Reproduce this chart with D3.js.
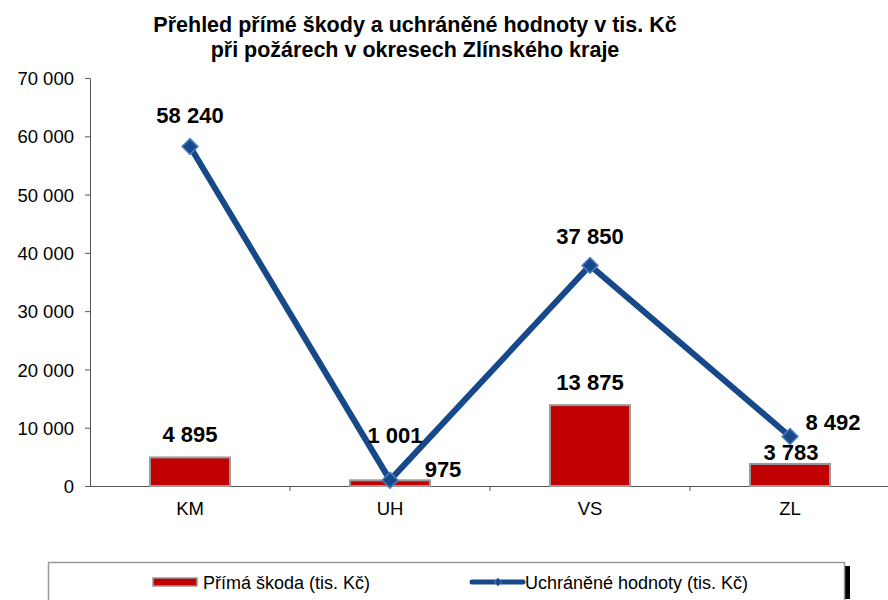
<!DOCTYPE html>
<html>
<head>
<meta charset="utf-8">
<script src="https://cdn.jsdelivr.net/npm/d3@7"></script>
<style>
  body { margin: 0; background: #fff; }
  svg text { font-family: "Liberation Sans", Arial, sans-serif; }
</style>
</head>
<body>
<div id="chart"></div>
<script>
// data
const districts = ["KM", "UH", "VS", "ZL"];
const directDamage = [4895, 975, 13875, 3783];
const savedValues = [58240, 1001, 37850, 8492];
const yTicks = [0, 10000, 20000, 30000, 40000, 50000, 60000, 70000];
const titleLines = ["Přehled přímé škody a uchráněné hodnoty v tis. Kč", "při požárech v okresech Zlínského kraje"];
const seriesNames = ["Přímá škoda (tis. Kč)", "Uchráněné hodnoty (tis. Kč)"];

const W = 888, H = 600;
const fmt = v => d3.format(",")(v).replace(/,/g, " ");

const svg = d3.select("#chart").append("svg")
  .attr("width", W).attr("height", H);

// title
svg.append("g").selectAll("text")
  .data(titleLines)
  .enter().append("text")
  .attr("x", 415)
  .attr("y", (d, i) => 32 + i * 25)
  .attr("text-anchor", "middle")
  .style("font-weight", "bold")
  .style("font-size", "21.5px")
  .text(d => d);

const x = d3.scaleBand().domain(districts).range([90, 890]);
const y = d3.scaleLinear().domain([0, 70000]).range([486, 78]);

// y axis
const yAxis = svg.append("g")
  .attr("transform", "translate(90,0)")
  .call(d3.axisLeft(y).tickValues(yTicks).tickFormat(fmt).tickSize(5).tickSizeOuter(0));
yAxis.select(".domain").attr("stroke", "#555");
yAxis.selectAll(".tick line").attr("stroke", "#555");
yAxis.selectAll("text").style("font-size", "18.5px").attr("fill", "#000").attr("x", -16).attr("dy", "0.36em");

// x axis
const xAxis = svg.append("g")
  .attr("transform", "translate(0,486)")
  .call(d3.axisBottom(x).tickSize(0).tickSizeOuter(0));
xAxis.select(".domain").attr("stroke", "#555");
xAxis.selectAll("text").style("font-size", "18.5px").attr("fill", "#000").attr("y", 29).attr("dy", 0);
// category separator ticks
svg.append("g").selectAll("line")
  .data(districts.slice(1))
  .enter().append("line")
  .attr("x1", d => x(d)).attr("x2", d => x(d))
  .attr("y1", 486).attr("y2", 491)
  .attr("stroke", "#555");

// bars
const bw = 80;
svg.append("g").selectAll("rect")
  .data(districts)
  .enter().append("rect")
  .attr("x", d => x(d) + x.bandwidth() / 2 - bw / 2)
  .attr("y", (d, i) => y(directDamage[i]))
  .attr("width", bw)
  .attr("height", (d, i) => y(0) - y(directDamage[i]))
  .attr("fill", "#c00000")
  .attr("stroke", "#999")
  .attr("stroke-width", 2);

// line
const cx = d => x(d) + x.bandwidth() / 2;
const line = d3.line().x(d => cx(d)).y((d, i) => y(savedValues[i]));
svg.append("path")
  .datum(districts)
  .attr("d", line)
  .attr("fill", "none")
  .attr("stroke", "#16488a")
  .attr("stroke-width", 6);

svg.append("g").selectAll("path")
  .data(districts)
  .enter().append("path")
  .attr("d", d3.symbol(d3.symbolDiamond2, 160))
  .attr("transform", (d, i) => `translate(${cx(d)},${y(savedValues[i])})`)
  .attr("fill", "#16488a")
  .attr("stroke", "#4a7fc0")
  .attr("stroke-width", 1.5);

// labels
const barLabelOffset = [[0, -15], [53, -3], [0, -15], [1, -4]];
const lineLabelOffset = [[0, -24], [5, -37], [0, -21], [43, -7]];
svg.append("g").selectAll("text")
  .data(districts)
  .enter().append("text")
  .attr("x", (d, i) => cx(d) + barLabelOffset[i][0])
  .attr("y", (d, i) => y(directDamage[i]) + barLabelOffset[i][1])
  .attr("text-anchor", "middle")
  .style("font-weight", "bold").style("font-size", "22px")
  .text((d, i) => fmt(directDamage[i]));
svg.append("g").selectAll("text")
  .data(districts)
  .enter().append("text")
  .attr("x", (d, i) => cx(d) + lineLabelOffset[i][0])
  .attr("y", (d, i) => y(savedValues[i]) + lineLabelOffset[i][1])
  .attr("text-anchor", "middle")
  .style("font-weight", "bold").style("font-size", "22px")
  .text((d, i) => fmt(savedValues[i]));

// legend
const lg = svg.append("g");
lg.append("rect").attr("x", 845).attr("y", 566).attr("width", 5).attr("height", 33).attr("fill", "#000");
lg.append("rect").attr("x", 48.5).attr("y", 562.5).attr("width", 796).attr("height", 40)
  .attr("fill", "#fff").attr("stroke", "#999").attr("stroke-width", 1.5);
lg.append("rect").attr("x", 153).attr("y", 578).attr("width", 44).attr("height", 8)
  .attr("fill", "#c00000").attr("stroke", "#999").attr("stroke-width", 1.5);
lg.append("text").attr("x", 203).attr("y", 589).style("font-size", "18px").text(seriesNames[0]);
lg.append("line").attr("x1", 472).attr("x2", 523).attr("y1", 582).attr("y2", 582)
  .attr("stroke", "#16488a").attr("stroke-width", 5).attr("stroke-linecap", "round");
lg.append("path").attr("d", d3.symbol(d3.symbolDiamond2, 40))
  .attr("transform", "translate(498,582)")
  .attr("fill", "#16488a").attr("stroke", "#4a7fc0");
lg.append("text").attr("x", 525).attr("y", 589).style("font-size", "18px").text(seriesNames[1]);
</script>
</body>
</html>
